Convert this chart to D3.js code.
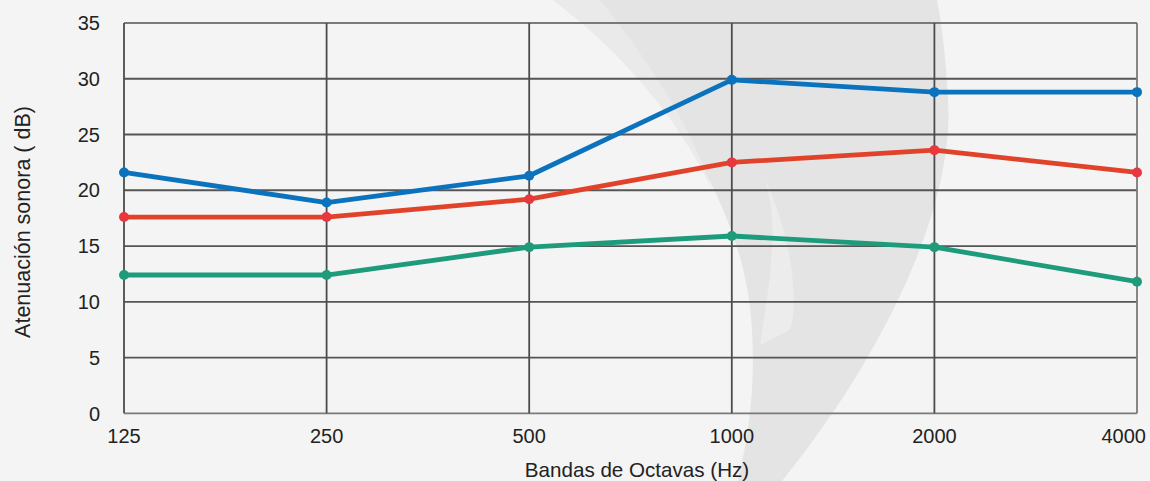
<!DOCTYPE html>
<html>
<head>
<meta charset="utf-8">
<script src="https://cdn.jsdelivr.net/npm/d3@7"></script>
<style>
  body { margin: 0; background: #f4f4f4; }
  svg text { font-family: "Liberation Sans", Arial, sans-serif; fill: #222; }
</style>
</head>
<body>
<div id="chart"></div>
<script>
(function() {

    var width = 1150,
    height = 481;

    // octave bands and attenuation values (dB)
    var bands = ["125", "250", "500", "1000", "2000", "4000"]
    var blueVals = [21.6, 18.9, 21.3, 29.9, 28.8, 28.8]
    var redVals = [17.6, 17.6, 19.2, 22.5, 23.6, 21.6]
    var greenVals = [12.4, 12.4, 14.9, 15.9, 14.9, 11.8]
    var yTicks = [0, 5, 10, 15, 20, 25, 30, 35]

    var series = [
        {name: "blue", values: blueVals, line: "#0b73bd", dot: "#0b73bd"},
        {name: "red", values: redVals, line: "#e1432a", dot: "#e8373d"},
        {name: "green", values: greenVals, line: "#1e9b7b", dot: "#1e9b7b"}
    ]

    var margin = {left: 124, right: 13, top: 23, bottom: 68}

    var svg = d3.select("#chart")
    .append("svg")
    .attr("width", width)
    .attr("height", height)

    svg.append("rect")
    .attr("width", width)
    .attr("height", height)
    .attr("fill", "#f4f4f4")

    // background swoosh decoration
    svg.append("path")
    .attr("d", "M553,0 C660,80 745,200 752,330 C756,400 745,450 738,481 L782,481 C880,360 955,210 948,100 C946,60 942,25 937,0 Z")
    .attr("fill", "#e4e4e5")
    svg.append("path")
    .attr("d", "M760,345 C770,280 780,220 764,178 C790,230 800,300 790,330 Z")
    .attr("fill", "#ececed")
    svg.append("path")
    .attr("d", "M553,0 C620,50 680,120 712,190 C690,120 640,50 600,0 Z")
    .attr("fill", "#eaeaeb")

    var x = d3.scalePoint()
    .domain(bands)
    .range([margin.left, width - margin.right])

    var y = d3.scaleLinear()
    .domain([0, 35])
    .range([height - margin.bottom + 0.3, margin.top])

    // horizontal grid
    svg.selectAll(".hgrid")
    .data(yTicks)
    .enter().append("line")
    .attr("class", "hgrid")
    .attr("x1", margin.left)
    .attr("x2", width - margin.right)
    .attr("y1", function(d){ return y(d) })
    .attr("y2", function(d){ return y(d) })
    .attr("stroke", function(d){ return (d === 35 || d === 0) ? "#7a7a7a" : "#555" })
    .attr("stroke-width", 1.8)

    // vertical grid
    svg.selectAll(".vgrid")
    .data(bands)
    .enter().append("line")
    .attr("class", "vgrid")
    .attr("x1", function(d){ return x(d) })
    .attr("x2", function(d){ return x(d) })
    .attr("y1", y(35))
    .attr("y2", y(0))
    .attr("stroke", function(d, i){ return i === bands.length - 1 ? "#7a7a7a" : "#4c4c4c" })
    .attr("stroke-width", 1.8)

    // y tick labels
    svg.selectAll(".ylab")
    .data(yTicks)
    .enter().append("text")
    .attr("class", "ylab")
    .attr("x", 100)
    .attr("y", function(d){ return y(d) })
    .attr("dy", "0.36em")
    .attr("text-anchor", "end")
    .attr("font-size", 20)
    .text(function(d){ return d })

    // x tick labels
    svg.selectAll(".xlab")
    .data(bands)
    .enter().append("text")
    .attr("class", "xlab")
    .attr("x", function(d, i){ return i === bands.length - 1 ? x(d) + 9 : x(d) })
    .attr("y", 443)
    .attr("text-anchor", function(d, i){ return i === bands.length - 1 ? "end" : "middle" })
    .attr("font-size", 20)
    .text(function(d){ return d })

    svg.append("text")
    .attr("x", 637)
    .attr("y", 477)
    .attr("text-anchor", "middle")
    .attr("font-size", 20.6)
    .attr("fill", "#333")
    .text("Bandas de Octavas (Hz)")

    svg.append("text")
    .attr("transform", "translate(30,222) rotate(-90)")
    .attr("text-anchor", "middle")
    .attr("font-size", 21.5)
    .attr("fill", "#333")
    .text("Atenuación sonora ( dB)")

    var line = d3.line()
    .x(function(d, i){ return x(bands[i]) })
    .y(function(d){ return y(d) })

    var groups = svg.selectAll(".series")
    .data(series)
    .enter().append("g")
    .attr("class", "series")

    groups.append("path")
    .attr("d", function(d){ return line(d.values) })
    .attr("fill", "none")
    .attr("stroke", function(d){ return d.line })
    .attr("stroke-width", 4.8)
    .attr("stroke-linejoin", "round")

    groups.selectAll("circle")
    .data(function(d){ return d.values.map(function(v, i){ return {v: v, i: i, c: d.dot} }) })
    .enter().append("circle")
    .attr("cx", function(d){ return x(bands[d.i]) })
    .attr("cy", function(d){ return y(d.v) })
    .attr("r", 5)
    .attr("fill", function(d){ return d.c })
})();
</script>
</body>
</html>
